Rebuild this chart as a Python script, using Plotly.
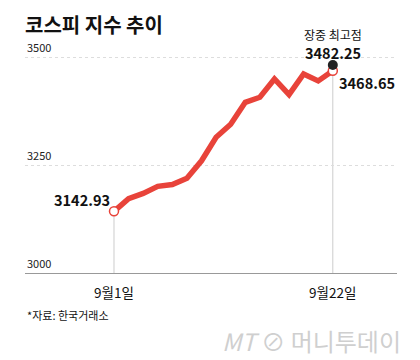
import plotly.graph_objects as go

# Data
dates = ["9/1", "9/2", "9/3", "9/4", "9/5", "9/8", "9/9", "9/10", "9/11", "9/12",
         "9/15", "9/16", "9/17", "9/18", "9/19", "9/22"]
kospi = [3142.93, 3172.35, 3184.42, 3200.83, 3205.12, 3219.59, 3260.05, 3314.53,
         3344.70, 3395.54, 3407.31, 3449.62, 3413.28, 3461.30, 3445.24, 3468.65]
intraday_high = 3482.25
x_tick_idx = [0, 15]
x_tick_text = ["9월1일", "9월22일"]
y_tick_vals = [3000, 3250, 3500]
y_tick_text = ["3000", "3250", "3500"]

RED = "#e8433a"
FONT = "Noto Sans CJK KR"
x = list(range(len(kospi)))
last = len(kospi) - 1

fig = go.Figure()

# vertical guide lines
fig.add_shape(type="line", x0=0, x1=0, y0=y_tick_vals[0], y1=kospi[0],
              line=dict(color="#cccccc", width=1), layer="below")
fig.add_shape(type="line", x0=last, x1=last, y0=y_tick_vals[0], y1=intraday_high,
              line=dict(color="#cccccc", width=1), layer="below")

fig.add_trace(go.Scatter(x=x, y=kospi, mode="lines",
                         line=dict(color=RED, width=5.5), hoverinfo="skip"))
fig.add_trace(go.Scatter(x=[0, last], y=[kospi[0], kospi[last]], mode="markers",
                         marker=dict(size=9, color="white", line=dict(color=RED, width=1.5)),
                         hoverinfo="skip"))
fig.add_trace(go.Scatter(x=[last], y=[intraday_high], mode="markers",
                         marker=dict(size=10, color="#222222"), hoverinfo="skip"))

ann = []
# title
ann.append(dict(text="<b>코스피 지수 추이</b>", xref="paper", yref="paper", x=-0.005, y=1.0,
                xanchor="left", yanchor="middle", yshift=16, showarrow=False,
                font=dict(size=20, color="#111111", family=FONT)))
# y tick labels
for v, t in zip(y_tick_vals, y_tick_text):
    ann.append(dict(text=t, xref="paper", yref="y", x=0, y=v, xanchor="left",
                    yanchor="bottom", yshift=0, showarrow=False,
                    font=dict(size=11, color="#222222", family=FONT)))
# x tick labels
for i, t in zip(x_tick_idx, x_tick_text):
    ann.append(dict(text=t, xref="x", yref="paper", x=i, y=0, xanchor="center",
                    yanchor="middle", yshift=-19, showarrow=False,
                    font=dict(size=13.5, color="#111111", family=FONT)))
# value labels
ann.append(dict(text="<b>%.2f</b>" % kospi[0], x=0, y=kospi[0], xanchor="right",
                yanchor="middle", xshift=-2, yshift=12, showarrow=False,
                font=dict(size=14.5, color="#111111", family=FONT)))
ann.append(dict(text="<b>%.2f</b>" % kospi[last], x=last, y=kospi[last], xanchor="left",
                yanchor="middle", xshift=4, yshift=-12, showarrow=False,
                font=dict(size=14.5, color="#111111", family=FONT)))
ann.append(dict(text="<b>%.2f</b>" % intraday_high, x=last, y=intraday_high, xanchor="center",
                yanchor="middle", yshift=12, showarrow=False,
                font=dict(size=14.5, color="#111111", family=FONT)))
ann.append(dict(text="장중 최고점", x=last, y=intraday_high, xanchor="center",
                yanchor="middle", yshift=30, showarrow=False,
                font=dict(size=12, color="#111111", family=FONT)))
# source
ann.append(dict(text="*자료: 한국거래소", xref="paper", yref="paper", x=0, y=0,
                xanchor="left", yanchor="middle", yshift=-42, showarrow=False,
                font=dict(size=11, color="#111111", family=FONT)))
# watermark
ann.append(dict(text="<i>MT</i> ⊘ 머니투데이", xref="paper", yref="paper", x=1.015, y=0,
                xanchor="right", yanchor="middle", yshift=-67, showarrow=False,
                font=dict(size=24, color="#cfcfcf", family=FONT)))

fig.update_layout(
    width=412, height=352,
    margin=dict(l=17, r=23, t=32, b=87),
    paper_bgcolor="white", plot_bgcolor="white",
    showlegend=False,
    annotations=ann,
    xaxis=dict(range=[-6.1, 19.4], showgrid=False, zeroline=False, showticklabels=False,
               showline=True, linecolor="#999999", linewidth=1, ticks=""),
    yaxis=dict(range=[3000, 3540], tickvals=y_tick_vals, showticklabels=False,
               showgrid=True, gridcolor="#dddddd", griddash="dot", gridwidth=1,
               zeroline=False, ticks=""),
)

fig.write_html("out.html")
